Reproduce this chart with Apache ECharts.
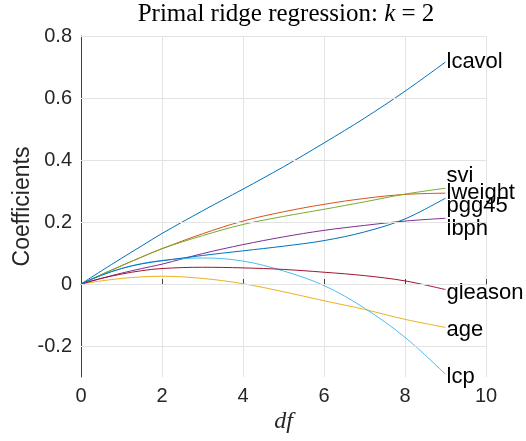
<!DOCTYPE html>
<html>
<head>
<meta charset="utf-8">
<script src="https://cdn.jsdelivr.net/npm/echarts@6/dist/echarts.min.js"></script>
<style>html,body{margin:0;padding:0;background:#fff;}#c{width:526px;height:441px;}</style>
</head>
<body>
<div id="c"></div>
<script>
// degrees of freedom (x values)
const df = [0, 0.5, 1, 1.5, 2, 3, 4, 5, 6, 7, 8, 9];
// coefficient paths
const lcavol  = [0, 0.042, 0.083, 0.123, 0.163, 0.236, 0.306, 0.378, 0.455, 0.535, 0.622, 0.716];
const lweight = [0, 0.030, 0.059, 0.087, 0.114, 0.162, 0.203, 0.233, 0.257, 0.276, 0.289, 0.293];
const age     = [0, 0.010, 0.018, 0.023, 0.025, 0.018, 0.001, -0.025, -0.054, -0.082, -0.114, -0.140];
const lbph    = [0, 0.018, 0.035, 0.050, 0.064, 0.098, 0.127, 0.152, 0.173, 0.189, 0.203, 0.212];
const svi     = [0, 0.030, 0.059, 0.087, 0.114, 0.156, 0.192, 0.218, 0.241, 0.265, 0.290, 0.309];
const lcp     = [0, 0.028, 0.050, 0.066, 0.076, 0.084, 0.074, 0.042, -0.005, -0.078, -0.172, -0.291];
const gleason = [0, 0.018, 0.032, 0.043, 0.050, 0.054, 0.052, 0.047, 0.038, 0.027, 0.010, -0.018];
const pgg45   = [0, 0.028, 0.050, 0.065, 0.075, 0.092, 0.107, 0.122, 0.140, 0.168, 0.210, 0.277];

const names = ['lcavol', 'lweight', 'age', 'lbph', 'svi', 'lcp', 'gleason', 'pgg45'];
const values = [lcavol, lweight, age, lbph, svi, lcp, gleason, pgg45];
const yTicks = [-0.2, 0, 0.2, 0.4, 0.6, 0.8];

const colors = ['#0072BD', '#D95319', '#EDB120', '#7E2F8E', '#77AC30', '#4DBEEE', '#A2142F', '#0072BD'];
const labelDy = [0, 0, 3, 11, -12, 3, 3, 8];

const sans = '"Liberation Sans", Arial, Helvetica, sans-serif';
const serif = '"Liberation Serif", "DejaVu Serif", serif';

const series = names.map((n, i) => ({
  name: n,
  type: 'line',
  data: df.map((x, j) => [x, values[i][j]]),
  smooth: 0.35,
  showSymbol: false,
  symbol: 'none',
  lineStyle: { width: 1, color: colors[i] },
  itemStyle: { color: colors[i] },
  z: 3,
  endLabel: {
    show: true,
    formatter: n,
    distance: 1,
    offset: [0, labelDy[i]],
    color: '#000',
    fontSize: 22,
    fontFamily: sans
  }
}));

// horizontal grid lines at the tick values
series.push({
  type: 'line',
  data: [],
  silent: true,
  z: 1,
  markLine: {
    silent: true,
    symbol: 'none',
    animation: false,
    label: { show: false },
    lineStyle: { color: '#e3e3e3', width: 1, type: 'solid' },
    data: yTicks.map(v => ({ yAxis: v }))
  }
});

const chart = echarts.init(document.getElementById('c'), null, { renderer: 'canvas' });
chart.setOption({
  animation: false,
  backgroundColor: '#fff',
  title: {
    text: '{a|Primal ridge regression: }{i|k}{a| = 2}',
    left: 281,
    textAlign: 'center',
    top: -3,
    textStyle: {
      fontWeight: 'normal',
      rich: {
        a: { fontFamily: serif, fontSize: 25, fontWeight: 'normal', color: '#000' },
        i: { fontFamily: serif, fontSize: 25, fontWeight: 'normal', fontStyle: 'italic', color: '#000' }
      }
    }
  },
  grid: { left: 81, right: 40, top: 36, bottom: 64, containLabel: false, outerBoundsMode: 'none' },
  xAxis: {
    type: 'value',
    min: 0, max: 10, interval: 2,
    name: 'df',
    nameLocation: 'middle',
    nameGap: 33,
    nameMoveOverlap: false,
    nameTextStyle: { fontFamily: serif, fontStyle: 'italic', fontSize: 24, color: '#262626' },
    axisLine: { show: true, lineStyle: { color: '#404040', width: 1 } },
    axisTick: { show: true, inside: true, length: 5, lineStyle: { color: '#404040' } },
    axisLabel: { fontFamily: sans, fontSize: 20, color: '#262626', margin: 9 },
    splitLine: { show: true, lineStyle: { color: '#e3e3e3', width: 1 } }
  },
  yAxis: {
    type: 'value',
    min: -0.3, max: 0.8,
    name: 'Coefficients',
    nameLocation: 'middle',
    nameGap: 47,
    nameMoveOverlap: false,
    nameTextStyle: { fontFamily: sans, fontSize: 23, color: '#262626' },
    axisLine: { show: true, onZero: false, lineStyle: { color: '#404040', width: 1 } },
    axisTick: { show: true, inside: true, length: 5, customValues: yTicks, lineStyle: { color: '#404040' } },
    axisLabel: { fontFamily: sans, fontSize: 20, color: '#262626', margin: 9, customValues: yTicks },
    splitLine: { show: false }
  },
  series: series
});
</script>
</body>
</html>
